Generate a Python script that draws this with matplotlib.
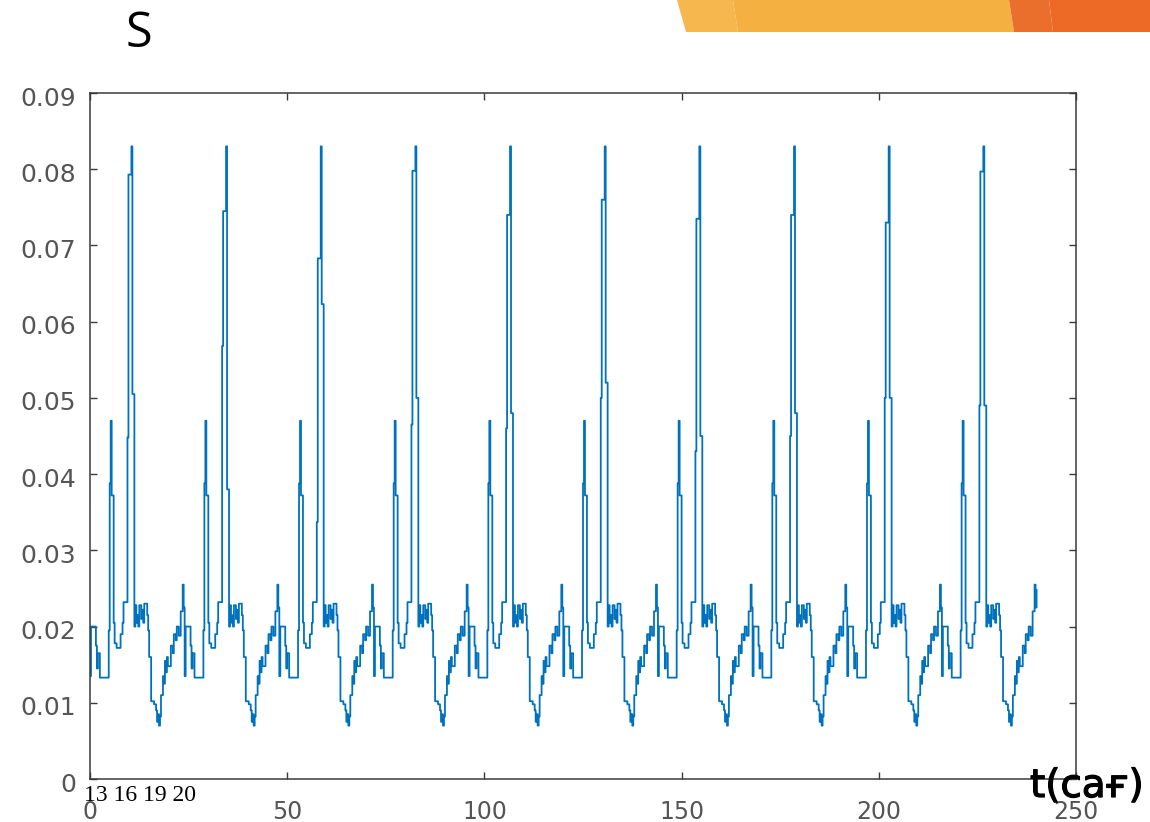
import matplotlib
matplotlib.use("Agg")
import matplotlib.pyplot as plt
import matplotlib.patheffects as pe
import matplotlib.transforms as mtransforms
from matplotlib.patches import Polygon

# ---------------------------------------------------------------------------
# Data: one day of the load profile, held constant between the hour marks.
# The peak block (rise / shoulder / top / fall) differs a little day by day.
# ---------------------------------------------------------------------------
day_hours = [0.00, 0.25, 1.50, 1.75, 2.00, 2.50, 4.75, 5.00, 5.25, 5.50,
             6.00, 6.25, 6.75, 7.75, 8.25, 8.50,
             9.50, 9.75, 10.50, 10.75,
             11.25, 11.50, 11.75, 12.00, 12.25, 12.50, 13.00, 13.25, 13.50,
             13.75, 14.50, 14.75, 15.00, 15.50, 16.25, 16.75, 17.00, 17.25,
             17.50, 17.75, 18.00, 18.50, 18.75, 19.00, 19.25, 19.50, 19.75,
             20.50, 21.00, 21.25, 21.75, 22.00, 22.50, 23.00, 23.50, 23.75]
day_values = [0.0135, 0.0200, 0.0175, 0.0145, 0.0165, 0.0133, 0.0195, 0.0388, 0.0470, 0.0372,
              0.0205, 0.0178, 0.0172, 0.0190, 0.0205, 0.0232,
              None, None, 0.0830, None,
              0.0200, 0.0228, 0.0205, 0.0215, 0.0200, 0.0228, 0.0210, 0.0222, 0.0205,
              0.0230, 0.0215, 0.0195, 0.0160, 0.0102, 0.0098, 0.0090, 0.0075, 0.0085,
              0.0070, 0.0082, 0.0110, 0.0135, 0.0125, 0.0155, 0.0140, 0.0160, 0.0148,
              0.0175, 0.0165, 0.0190, 0.0182, 0.0200, 0.0188, 0.0220, 0.0255, 0.0225]

peak_rise = [0.0448, 0.0568, 0.0337, 0.0465, 0.0460, 0.0500, 0.0430, 0.0450, 0.0500, 0.0490]
peak_shoulder = [0.0793, 0.0745, 0.0683, 0.0798, 0.0740, 0.0760, 0.0735, 0.0740, 0.0730, 0.0797]
peak_fall = [0.0505, 0.0380, 0.0623, 0.0500, 0.0480, 0.0520, 0.0450, 0.0480, 0.0500, 0.0490]

end_hour = 240.0
end_value = 0.0248

x_ticks = [0, 50, 100, 150, 200, 250]
y_ticks = [0, 0.01, 0.02, 0.03, 0.04, 0.05, 0.06, 0.07, 0.08, 0.09]
y_tick_labels = ["0", "0.01", "0.02", "0.03", "0.04", "0.05", "0.06", "0.07", "0.08", "0.09"]
hour_marks = "13 16 19 20"

# ---------------------------------------------------------------------------
# Build the 10-day series
# ---------------------------------------------------------------------------
t_all, s_all = [], []
i_rise = day_hours.index(9.50)
for d in range(len(peak_rise)):
    vals = list(day_values)
    vals[i_rise] = peak_rise[d]
    vals[i_rise + 1] = peak_shoulder[d]
    vals[i_rise + 3] = peak_fall[d]
    t_all.extend(24 * d + h for h in day_hours)
    s_all.extend(vals)
t_all.append(end_hour)
s_all.append(end_value)

W, H = 1150, 822
fig = plt.figure(figsize=(W / 100, H / 100), dpi=100)


def fx(px):
    return px / W


def fy(py):
    return 1 - py / H


# slide banner in the top right corner
banner = [
    ([677, 733, 738, 686], "#F6B74E"),
    ([733, 1009, 1014, 738], "#F4B142"),
    ([1009, 1049, 1053, 1014], "#EA6F2D"),
    ([1049, 1150, 1150, 1053], "#EC6A25"),
]
for (x0, x1, x2, x3), col in banner:
    fig.patches.append(Polygon(
        [(fx(x0), fy(0)), (fx(x1), fy(0)), (fx(x2), fy(32)), (fx(x3), fy(32))],
        closed=True, facecolor=col, edgecolor="none",
        transform=fig.transFigure, figure=fig))

ax = fig.add_axes([fx(90), fy(779), fx(1076) - fx(90), fy(93) - fy(779)])
ax.plot(t_all, s_all, drawstyle="steps-post", color="#0072BD", lw=1.3)

ax.set_xlim(0, 250)
ax.set_ylim(0, 0.09)
ax.set_xticks(x_ticks)
ax.set_yticks(y_ticks)
ax.set_yticklabels(y_tick_labels)
for sp in ax.spines.values():
    sp.set_color("#3a3a3a")
    sp.set_linewidth(1.1)
ax.tick_params(direction="in", length=5, width=1, color="#3a3a3a",
               top=True, right=True, labelcolor="#555555")
ax.tick_params(axis="y", labelsize=18, pad=10)
ax.tick_params(axis="x", labelsize=17, pad=15)

# y labels sit a few pixels below their ticks
down = mtransforms.ScaledTranslation(0, -3 / 100, fig.dpi_scale_trans)
for lab in ax.get_yticklabels():
    lab.set_transform(lab.get_transform() + down)

fig.text(fx(126), fy(47), "S", family="Open Sans", fontsize=35,
         va="baseline", ha="left", color="black")
fig.text(fx(84), fy(801), hour_marks, family="Liberation Serif", fontsize=17,
         va="baseline", ha="left", color="black")
# regular face with a thin outline reads as a semibold weight
fig.text(fx(1030), fy(797), "t(сағ)", family="DejaVu Sans", fontsize=28,
         va="baseline", ha="left", color="black",
         path_effects=[pe.withStroke(linewidth=0.9, foreground="black")])

fig.savefig("out.png", dpi=100)
